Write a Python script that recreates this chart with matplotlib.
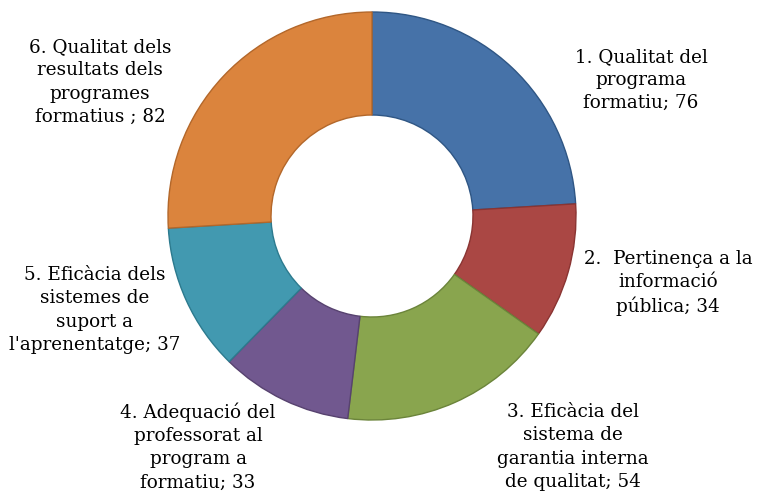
import matplotlib.pyplot as plt

labels = [
    "1. Qualitat del\nprograma\nformatiu; 76",
    "2.  Pertinença a la\ninformació\npública; 34",
    "3. Eficàcia del\nsistema de\ngarantia interna\nde qualitat; 54",
    "4. Adequació del\nprofessorat al\nprogram a\nformatiu; 33",
    "5. Eficàcia dels\nsistemes de\nsuport a\nl'aprenentatge; 37",
    "6. Qualitat dels\nresultats dels\nprogrames\nformatius ; 82",
]
values = [76, 34, 54, 33, 37, 82]
colors = ["#4672a8", "#aa4744", "#89a54e", "#71588f", "#4299b0", "#db843d"]
edges = ["#2f5684", "#8a3432", "#6b843a", "#57426f", "#2c7a8e", "#b3672a"]

# label centres in pixel coords (x from left, y from top)
label_pos = [(641, 80), (668, 283), (573, 447), (198, 447), (95, 310), (100, 82)]

W, H = 762, 497
fig = plt.figure(figsize=(W / 100, H / 100), dpi=100)
ax = fig.add_axes([0, 0, 1, 1])

cx, cy, r = 372, 216, 204
wedges, _ = ax.pie(values, center=(cx, H - cy), radius=r, startangle=90,
                   counterclock=False, colors=colors,
                   wedgeprops=dict(width=r * 0.505, linewidth=1.0))
for w, ec in zip(wedges, edges):
    w.set_edgecolor(ec)

ax.set_xlim(0, W)
ax.set_ylim(0, H)
ax.set_aspect("equal")
ax.axis("off")

for txt, (x, y) in zip(labels, label_pos):
    ax.text(x, H - y, txt, ha="center", va="center", fontsize=13.2,
            family="DejaVu Serif", linespacing=1.38, color="black")

fig.savefig("out.png", dpi=100)
